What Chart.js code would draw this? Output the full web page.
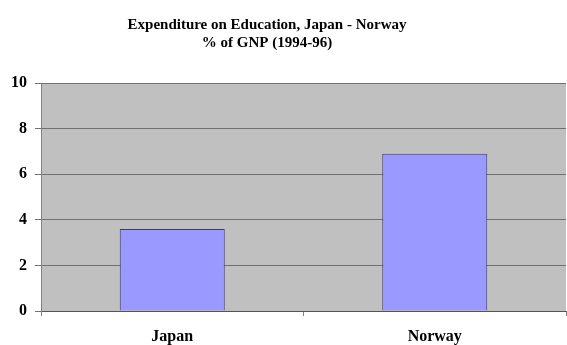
<!DOCTYPE html>
<html>
<head>
<meta charset="utf-8">
<script src="https://cdn.jsdelivr.net/npm/chart.js@4/dist/chart.umd.min.js"></script>
<style>
  html, body { margin: 0; padding: 0; background: #ffffff; overflow: hidden; }
  #wrap { position: relative; width: 567px; height: 345px; }
  canvas { display: block; }
</style>
</head>
<body>
<div id="wrap"><canvas id="chart" width="567" height="345"></canvas></div>
<script>
// Public expenditure on education as % of GNP, 1994-96
const categories = ['Japan', 'Norway'];
const expenditure = [3.6, 6.9];
const titleLines = ['Expenditure on Education, Japan - Norway', '% of GNP (1994-96)'];
const yTicks = [0, 2, 4, 6, 8, 10];

const SERIF = '"Liberation Serif", "Times New Roman", serif';

// Grey plot-area fill, painted before the grid and bars
const plotBackground = {
  id: 'plotBackground',
  beforeDraw(chart) {
    const { ctx, chartArea: a } = chart;
    ctx.save();
    ctx.fillStyle = '#c0c0c0';
    ctx.fillRect(a.left, a.top, a.right - a.left, a.bottom - a.top);
    ctx.restore();
  }
};

// Two-line bold heading above the plot
const heading = {
  id: 'heading',
  afterDraw(chart) {
    const { ctx } = chart;
    ctx.save();
    ctx.fillStyle = '#000000';
    ctx.font = 'bold 15px ' + SERIF;
    ctx.textAlign = 'center';
    ctx.textBaseline = 'alphabetic';
    ctx.fillText(titleLines[0], 267, 29);
    ctx.fillText(titleLines[1], 267, 47);
    ctx.restore();
  }
};

new Chart(document.getElementById('chart'), {
  type: 'bar',
  data: {
    labels: categories,
    datasets: [{
      data: expenditure,
      backgroundColor: '#9999ff',
      borderColor: '#3c3c70',
      borderWidth: 1,
      categoryPercentage: 1.0,
      barPercentage: 0.4
    }]
  },
  options: {
    responsive: false,
    animation: false,
    devicePixelRatio: 1,
    layout: { padding: { top: 83, right: 1, bottom: 0, left: 0 } },
    plugins: {
      legend: { display: false },
      title: { display: false },
      tooltip: { enabled: false }
    },
    scales: {
      x: {
        offset: true,
        grid: {
          offset: true,
          drawOnChartArea: false,
          drawTicks: true,
          tickLength: 5,
          color: '#808080'
        },
        border: { color: '#555555', width: 1 },
        ticks: {
          color: '#000000',
          padding: 11,
          font: { family: SERIF, size: 16, weight: 'bold' }
        },
        afterFit(scale) { scale.height = 34; }
      },
      y: {
        min: 0,
        max: 10,
        afterBuildTicks(scale) { scale.ticks = yTicks.map(v => ({ value: v })); },
        grid: {
          color: '#707070',
          tickLength: 6,
          drawTicks: true
        },
        border: { color: '#808080', width: 1 },
        ticks: {
          color: '#000000',
          padding: 8,
          font: { family: SERIF, size: 16, weight: 'bold' }
        },
        afterFit(scale) { scale.width = 41; }
      }
    }
  },
  plugins: [plotBackground, heading]
});
</script>
</body>
</html>
